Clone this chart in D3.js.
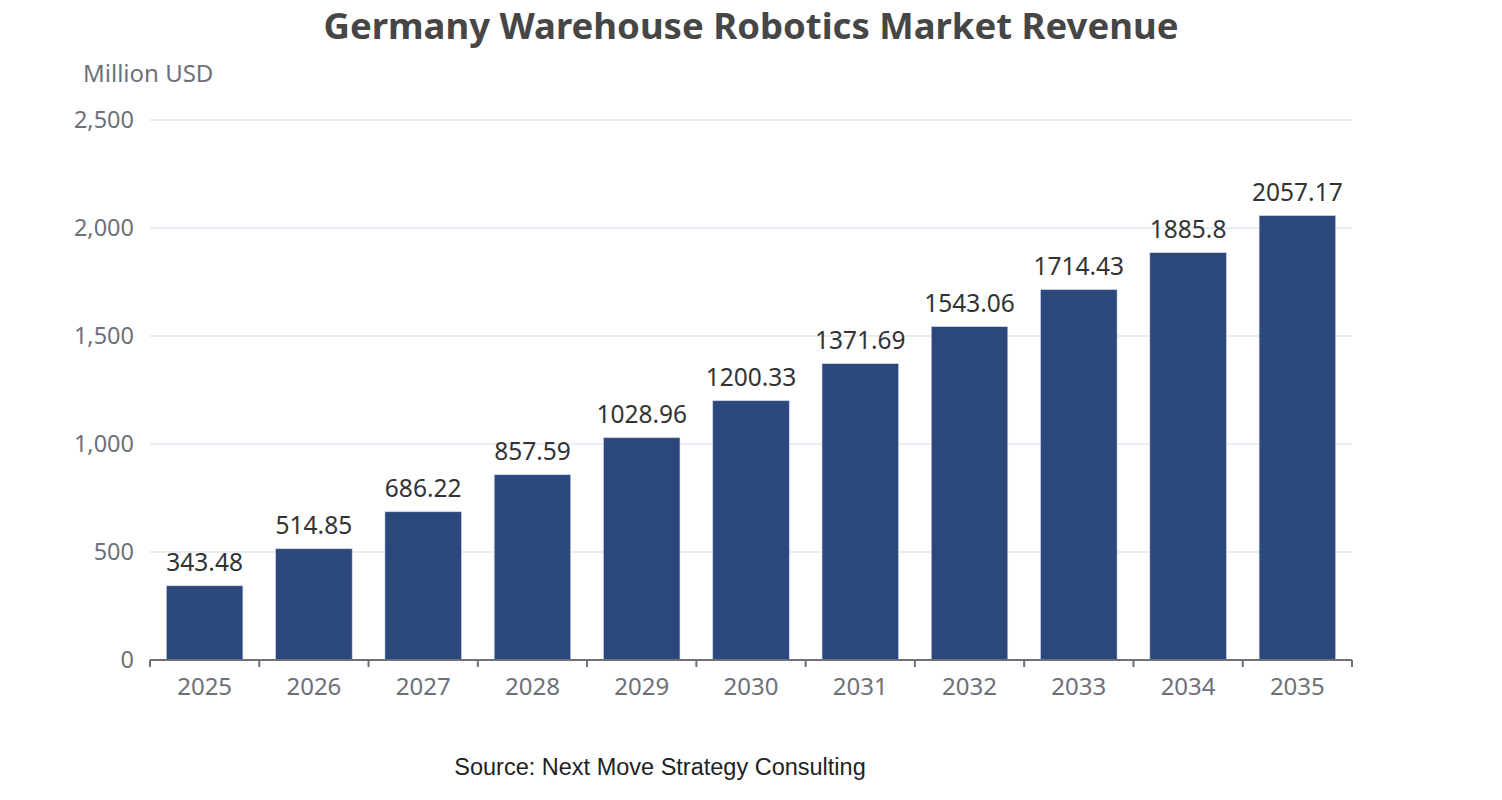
<!DOCTYPE html>
<html>
<head>
<meta charset="utf-8">
<script src="https://cdn.jsdelivr.net/npm/d3@7"></script>
<style>
  body { margin: 0; background: #fff; }
  svg { display: block; }
</style>
</head>
<body>
<script>
	'use strict';

	// chart data
	var years	= ["2025", "2026", "2027", "2028", "2029", "2030", "2031", "2032", "2033", "2034", "2035"];
	var revenue	= [343.48, 514.85, 686.22, 857.59, 1028.96, 1200.33, 1371.69, 1543.06, 1714.43, 1885.8, 2057.17];
	var yTicks	= [0, 500, 1000, 1500, 2000, 2500];

	var titleText	= "Germany Warehouse Robotics Market Revenue",
		unitText	= "Million USD",
		sourceText	= "Source: Next Move Strategy Consulting";

	var W = 1502, H = 800;
	var margin = { top: 120, right: 150, bottom: 140, left: 150 },
		width = W - margin.left - margin.right,
		height = H - margin.top - margin.bottom;

	var font = "'Noto Sans', 'Open Sans', sans-serif";

	var svg = d3.select("body").append("svg")
		.attr("width", W)
		.attr("height", H);

	// title
	svg.append("text")
		.attr("x", W / 2)
		.attr("y", 39)
		.attr("text-anchor", "middle")
		.style("font-family", font)
		.style("font-size", "36.5px")
		.style("font-weight", "bold")
		.style("fill", "#464646")
		.text(titleText);

	var g = svg.append("g")
		.attr("transform", "translate(" + margin.left + "," + margin.top + ")");

	var x = d3.scaleBand().domain(years).range([0, width]).paddingInner(0.3).paddingOuter(0.15);
	var y = d3.scaleLinear().domain([0, 2500]).range([height, 0]);

	// grid lines
	g.append("g")
		.selectAll("line")
		.data(yTicks.filter(function(d) { return d > 0; }))
		.enter().append("line")
		.attr("x1", 0).attr("x2", width)
		.attr("y1", function(d) { return y(d); })
		.attr("y2", function(d) { return y(d); })
		.style("stroke", "#e0e6f1")
		.style("stroke-width", 1.5);

	// y axis labels
	var yAxis = d3.axisLeft(y).tickValues(yTicks).tickSize(0).tickPadding(16).tickFormat(d3.format(","));
	var yAxisG = g.append("g").call(yAxis);
	yAxisG.select(".domain").remove();
	yAxisG.selectAll("text")
		.style("font-family", font)
		.style("font-size", "23.5px")
		.style("fill", "#6e7079");

	// unit label
	g.append("text")
		.attr("x", -67)
		.attr("y", -38)
		.style("font-family", font)
		.style("font-size", "24px")
		.style("fill", "#6e7079")
		.text(unitText);

	// bars
	g.selectAll(".bar")
		.data(revenue)
		.enter().append("rect")
		.attr("class", "bar")
		.attr("x", function(d, i) { return x(years[i]); })
		.attr("y", function(d) { return y(d); })
		.attr("width", x.bandwidth())
		.attr("height", function(d) { return height - y(d); })
		.style("fill", "#2c477b")
		.style("stroke", "#c9d3e6")
		.style("stroke-width", 0.6);

	// value labels
	g.selectAll(".val")
		.data(revenue)
		.enter().append("text")
		.attr("class", "val")
		.attr("x", function(d, i) { return x(years[i]) + x.bandwidth() / 2; })
		.attr("y", function(d) { return y(d) - 15; })
		.attr("text-anchor", "middle")
		.style("font-family", font)
		.style("font-size", "24.5px")
		.style("fill", "#333")
		.text(function(d) { return d; });

	// x axis with ticks at band boundaries
	var xAxisG = g.append("g").attr("transform", "translate(0," + height + ")");
	xAxisG.append("line")
		.attr("x1", 0).attr("x2", width)
		.style("stroke", "#6e7079").style("stroke-width", 2);
	xAxisG.selectAll(".tick")
		.data(d3.range(years.length + 1))
		.enter().append("line")
		.attr("x1", function(i) { return i * width / years.length; })
		.attr("x2", function(i) { return i * width / years.length; })
		.attr("y1", 0).attr("y2", 7)
		.style("stroke", "#6e7079").style("stroke-width", 2);
	xAxisG.selectAll(".lbl")
		.data(years)
		.enter().append("text")
		.attr("x", function(d) { return x(d) + x.bandwidth() / 2; })
		.attr("y", 35)
		.attr("text-anchor", "middle")
		.style("font-family", font)
		.style("font-size", "24px")
		.style("fill", "#6e7079")
		.text(function(d) { return d; });

	// source
	svg.append("text")
		.attr("x", 660)
		.attr("y", 775)
		.attr("text-anchor", "middle")
		.style("font-family", "'Liberation Sans', Arial, sans-serif")
		.style("font-size", "23.5px")
		.style("fill", "#222")
		.text(sourceText);
</script>
</body>
</html>
